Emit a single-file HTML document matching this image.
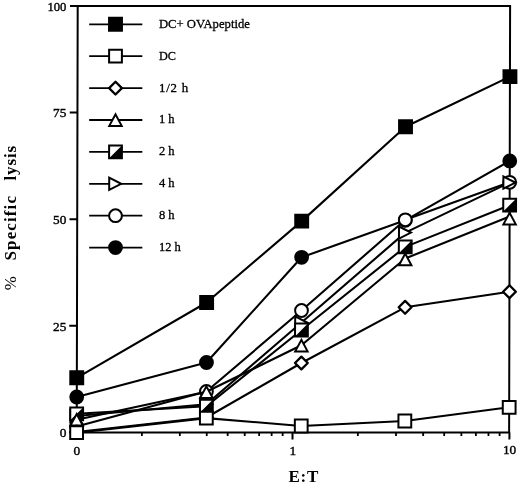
<!DOCTYPE html>
<html><head><meta charset="utf-8"><title>chart</title>
<style>html,body{margin:0;padding:0;background:#fff;}body{width:520px;height:484px;overflow:hidden;font-family:"Liberation Serif",serif;}svg{display:block;}svg{will-change:transform;filter:grayscale(1);}</style>
</head><body>
<svg width="520" height="484" viewBox="0 0 520 484">
<rect width="520" height="484" fill="#fff"/>
<g transform="matrix(1 0 -0.0023 1 0.014 0)">
<g stroke="#000" stroke-width="2.0" fill="none" stroke-linecap="butt">
<path d="M77.7 5.9H510.1 V432.4 H77.7 Z" stroke-linejoin="miter"/>
<path d="M70 5.9H77.7"/>
<path d="M70 112.52H77.7"/>
<path d="M70 219.15H77.7"/>
<path d="M70 325.77H77.7"/>
<path d="M70 432.4H77.7"/>
<path d="M142.87 432.4V435.9" stroke-width="1.8"/>
<path d="M180.82 432.4V435.9" stroke-width="1.8"/>
<path d="M207.74 432.4V435.9" stroke-width="1.8"/>
<path d="M228.63 432.4V435.9" stroke-width="1.8"/>
<path d="M245.69 432.4V435.9" stroke-width="1.8"/>
<path d="M260.12 432.4V435.9" stroke-width="1.8"/>
<path d="M272.62 432.4V435.9" stroke-width="1.8"/>
<path d="M283.64 432.4V435.9" stroke-width="1.8"/>
<path d="M293.5 432.4V439.5"/>
<path d="M358.82 432.4V435.9" stroke-width="1.8"/>
<path d="M397.04 432.4V435.9" stroke-width="1.8"/>
<path d="M424.15 432.4V435.9" stroke-width="1.8"/>
<path d="M445.18 432.4V435.9" stroke-width="1.8"/>
<path d="M462.36 432.4V435.9" stroke-width="1.8"/>
<path d="M476.89 432.4V435.9" stroke-width="1.8"/>
<path d="M489.47 432.4V435.9" stroke-width="1.8"/>
<path d="M500.57 432.4V435.9" stroke-width="1.8"/>
<path d="M510.4 432.4V439.5"/>
</g>
<path d="M77.6 397L207.3 362.5L302.2 257.3L405.8 220.3L510.1 160.9" fill="none" stroke="#000" stroke-width="2.1" stroke-linejoin="round"/>
<circle cx="77.6" cy="397" r="7.4" fill="#000"/>
<circle cx="207.3" cy="362.5" r="7.4" fill="#000"/>
<circle cx="302.2" cy="257.3" r="7.4" fill="#000"/>
<circle cx="405.8" cy="220.3" r="7.4" fill="#000"/>
<circle cx="510.1" cy="160.9" r="7.4" fill="#000"/>
<path d="M77.6 426.5L207.3 391.5L302.2 310.5L405.8 219.8L510.1 182.3" fill="none" stroke="#000" stroke-width="2.1" stroke-linejoin="round"/>
<circle cx="77.6" cy="426.5" r="6.4" fill="#fff" stroke="#000" stroke-width="2.0"/>
<circle cx="207.3" cy="391.5" r="6.4" fill="#fff" stroke="#000" stroke-width="2.0"/>
<circle cx="302.2" cy="310.5" r="6.4" fill="#fff" stroke="#000" stroke-width="2.0"/>
<circle cx="405.8" cy="219.8" r="6.4" fill="#fff" stroke="#000" stroke-width="2.0"/>
<circle cx="510.1" cy="182.3" r="6.4" fill="#fff" stroke="#000" stroke-width="2.0"/>
<path d="M77.6 416L207.3 404.3L302.2 322.5L405.8 232.6L510.1 182.6" fill="none" stroke="#000" stroke-width="2.1" stroke-linejoin="round"/>
<path d="M71.3 409.9L83.3 416L71.3 422.1Z" fill="#fff" stroke="#000" stroke-width="2.0"/>
<path d="M201 398.2L213 404.3L201 410.4Z" fill="#fff" stroke="#000" stroke-width="2.0"/>
<path d="M295.9 316.4L307.9 322.5L295.9 328.6Z" fill="#fff" stroke="#000" stroke-width="2.0"/>
<path d="M399.5 226.5L411.5 232.6L399.5 238.7Z" fill="#fff" stroke="#000" stroke-width="2.0"/>
<path d="M503.8 176.5L515.8 182.6L503.8 188.7Z" fill="#fff" stroke="#000" stroke-width="2.0"/>
<path d="M77.6 413.8L207.3 406.2L302.2 330L405.8 246.9L510.1 205.2" fill="none" stroke="#000" stroke-width="2.1" stroke-linejoin="round"/>
<rect x="71.2" y="407.4" width="12.8" height="12.8" fill="#fff" stroke="#000" stroke-width="2.0"/><path d="M71.2 420.2L84 407.4L84 420.2Z" fill="#000"/>
<rect x="200.9" y="399.8" width="12.8" height="12.8" fill="#fff" stroke="#000" stroke-width="2.0"/><path d="M200.9 412.6L213.7 399.8L213.7 412.6Z" fill="#000"/>
<rect x="295.8" y="323.6" width="12.8" height="12.8" fill="#fff" stroke="#000" stroke-width="2.0"/><path d="M295.8 336.4L308.6 323.6L308.6 336.4Z" fill="#000"/>
<rect x="399.4" y="240.5" width="12.8" height="12.8" fill="#fff" stroke="#000" stroke-width="2.0"/><path d="M399.4 253.3L412.2 240.5L412.2 253.3Z" fill="#000"/>
<rect x="503.7" y="198.8" width="12.8" height="12.8" fill="#fff" stroke="#000" stroke-width="2.0"/><path d="M503.7 211.6L516.5 198.8L516.5 211.6Z" fill="#000"/>
<path d="M77.6 419.7L207.3 391.8L302.2 345.3L405.8 258.5L510.1 216.4" fill="none" stroke="#000" stroke-width="2.1" stroke-linejoin="round"/>
<path d="M71.4 425.6L77.6 414L83.8 425.6Z" fill="#fff" stroke="#000" stroke-width="2.0"/>
<path d="M201.1 397.9L207.3 386.3L213.5 397.9Z" fill="#fff" stroke="#000" stroke-width="2.0"/>
<path d="M296 351.4L302.2 339.8L308.4 351.4Z" fill="#fff" stroke="#000" stroke-width="2.0"/>
<path d="M399.6 265.2L405.8 253.6L412 265.2Z" fill="#fff" stroke="#000" stroke-width="2.0"/>
<path d="M503.9 224.4L510.1 212.8L516.3 224.4Z" fill="#fff" stroke="#000" stroke-width="2.0"/>
<path d="M77.6 432L207.3 417.5L302.2 363L405.8 307.3L510.1 291.7" fill="none" stroke="#000" stroke-width="2.1" stroke-linejoin="round"/>
<path d="M71.2 432L77.6 425.6L84 432L77.6 438.4Z" fill="#fff" stroke="#000" stroke-width="2.3" stroke-linejoin="round"/>
<path d="M200.9 417.5L207.3 411.1L213.7 417.5L207.3 423.9Z" fill="#fff" stroke="#000" stroke-width="2.3" stroke-linejoin="round"/>
<path d="M295.8 363L302.2 356.6L308.6 363L302.2 369.4Z" fill="#fff" stroke="#000" stroke-width="2.3" stroke-linejoin="round"/>
<path d="M399.4 307.3L405.8 300.9L412.2 307.3L405.8 313.7Z" fill="#fff" stroke="#000" stroke-width="2.3" stroke-linejoin="round"/>
<path d="M503.7 291.7L510.1 285.3L516.5 291.7L510.1 298.1Z" fill="#fff" stroke="#000" stroke-width="2.3" stroke-linejoin="round"/>
<path d="M77.6 432.7L207.3 418.1L302.2 426L405.8 421L510.1 407.3" fill="none" stroke="#000" stroke-width="2.1" stroke-linejoin="round"/>
<rect x="71.2" y="426.3" width="12.8" height="12.8" fill="#fff" stroke="#000" stroke-width="2.0"/>
<rect x="200.9" y="411.7" width="12.8" height="12.8" fill="#fff" stroke="#000" stroke-width="2.0"/>
<rect x="295.8" y="419.6" width="12.8" height="12.8" fill="#fff" stroke="#000" stroke-width="2.0"/>
<rect x="399.4" y="414.6" width="12.8" height="12.8" fill="#fff" stroke="#000" stroke-width="2.0"/>
<rect x="503.7" y="400.9" width="12.8" height="12.8" fill="#fff" stroke="#000" stroke-width="2.0"/>
<path d="M77.6 377.8L207.3 302.5L302.2 221.1L405.8 126.7L510.1 76.6" fill="none" stroke="#000" stroke-width="2.1" stroke-linejoin="round"/>
<rect x="70.15" y="370.35" width="14.9" height="14.9" fill="#000"/>
<rect x="199.85" y="295.05" width="14.9" height="14.9" fill="#000"/>
<rect x="294.75" y="213.65" width="14.9" height="14.9" fill="#000"/>
<rect x="398.35" y="119.25" width="14.9" height="14.9" fill="#000"/>
<rect x="502.65" y="69.15" width="14.9" height="14.9" fill="#000"/>
<path d="M89.24 24.3H142.34" stroke="#000" stroke-width="1.8"/>
<rect x="108.09" y="16.85" width="14.9" height="14.9" fill="#000"/>
<path d="M89.32 56.2H142.42" stroke="#000" stroke-width="1.8"/>
<rect x="109.22" y="49.8" width="12.8" height="12.8" fill="#fff" stroke="#000" stroke-width="2.0"/>
<path d="M89.39 88.1H142.49" stroke="#000" stroke-width="1.8"/>
<path d="M109.29 88.1L115.69 81.7L122.09 88.1L115.69 94.5Z" fill="#fff" stroke="#000" stroke-width="2.3" stroke-linejoin="round"/>
<path d="M89.46 120H142.56" stroke="#000" stroke-width="1.8"/>
<path d="M109.56 125.9L115.76 114.3L121.96 125.9Z" fill="#fff" stroke="#000" stroke-width="2.0"/>
<path d="M89.54 151.9H142.64" stroke="#000" stroke-width="1.8"/>
<rect x="109.44" y="145.5" width="12.8" height="12.8" fill="#fff" stroke="#000" stroke-width="2.0"/><path d="M109.44 158.3L122.24 145.5L122.24 158.3Z" fill="#000"/>
<path d="M89.61 183.8H142.71" stroke="#000" stroke-width="1.8"/>
<path d="M109.61 177.7L121.61 183.8L109.61 189.9Z" fill="#fff" stroke="#000" stroke-width="2.0"/>
<path d="M89.68 215.7H142.78" stroke="#000" stroke-width="1.8"/>
<circle cx="115.98" cy="215.7" r="6.4" fill="#fff" stroke="#000" stroke-width="2.0"/>
<path d="M89.76 247.6H142.86" stroke="#000" stroke-width="1.8"/>
<circle cx="116.06" cy="247.6" r="7.4" fill="#000"/>
</g>
<g font-family="'Liberation Serif', serif" font-size="12.9" fill="#000" stroke="#000" stroke-width="0.3">
<text x="158.9" y="27.7" textLength="91" lengthAdjust="spacingAndGlyphs">DC+ OVApeptide</text>
<text x="158.9" y="59.6" textLength="17" lengthAdjust="spacingAndGlyphs">DC</text>
<text x="158.9" y="91.5" textLength="29.4" lengthAdjust="spacing">1/2 h</text>
<text x="158.9" y="123.4" textLength="15.7" lengthAdjust="spacingAndGlyphs">1 h</text>
<text x="158.9" y="155.3" textLength="15.7" lengthAdjust="spacingAndGlyphs">2 h</text>
<text x="158.9" y="187.2" textLength="15.7" lengthAdjust="spacingAndGlyphs">4 h</text>
<text x="158.9" y="219.1" textLength="15.7" lengthAdjust="spacingAndGlyphs">8 h</text>
<text x="158.9" y="251" textLength="21.9" lengthAdjust="spacingAndGlyphs">12 h</text>
</g>
<g font-family="'Liberation Serif', serif" font-size="13.3" fill="#000" stroke="#000" stroke-width="0.4">
<text x="47.4" y="10.8" textLength="19" lengthAdjust="spacingAndGlyphs">100</text>
<text x="53.1" y="117.42" textLength="13.3" lengthAdjust="spacingAndGlyphs">75</text>
<text x="53.1" y="224.05" textLength="13.3" lengthAdjust="spacingAndGlyphs">50</text>
<text x="53.1" y="330.67" textLength="13.3" lengthAdjust="spacingAndGlyphs">25</text>
<text x="59.7" y="437.3" textLength="6.7" lengthAdjust="spacingAndGlyphs">0</text>
<text x="73.4" y="455.3" textLength="6.7" lengthAdjust="spacingAndGlyphs">0</text>
<text x="289.4" y="454.6" textLength="6.7" lengthAdjust="spacingAndGlyphs">1</text>
<text x="502.9" y="454.4" textLength="13.3" lengthAdjust="spacingAndGlyphs">10</text>
</g>
<g font-family="'Liberation Serif', serif" font-size="17" font-weight="bold" fill="#000">
<text x="303.8" y="482.2" text-anchor="middle" letter-spacing="0.8">E:T</text>
<text transform="translate(16.2 290.2) rotate(-90)" font-weight="normal" textLength="14" lengthAdjust="spacingAndGlyphs">%</text>
<text transform="translate(16.2 260.5) rotate(-90)" textLength="64.5" lengthAdjust="spacing">Specific</text>
<text transform="translate(16.2 180.5) rotate(-90)" textLength="34.7" lengthAdjust="spacing">lysis</text>
</g>
</svg>
</body></html>
